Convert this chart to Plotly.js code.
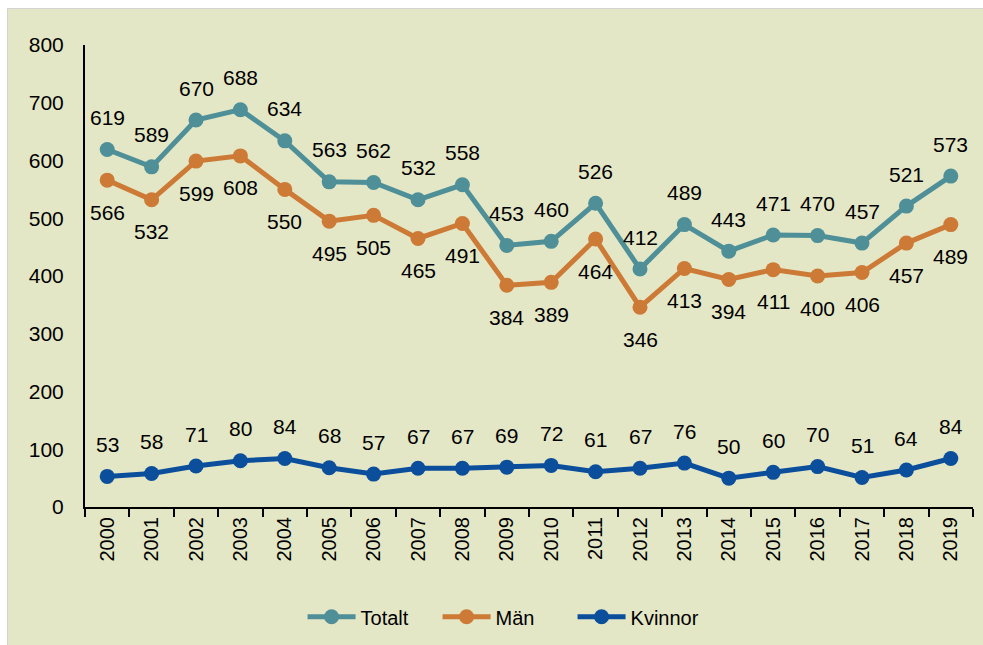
<!DOCTYPE html>
<html><head><meta charset="utf-8">
<script src="https://cdn.plot.ly/plotly-3.0.1.min.js"></script>
<style>
body{margin:0;background:#fff;}
#chart{position:absolute;left:7px;top:8px;width:976px;height:637px;border-left:1px solid #d4d4d4;border-top:1px solid #d4d4d4;}
</style></head><body>
<div id="chart"></div>
<script>
const years = ["2000","2001","2002","2003","2004","2005","2006","2007","2008","2009","2010","2011","2012","2013","2014","2015","2016","2017","2018","2019"];
const totalt = [619,589,670,688,634,563,562,532,558,453,460,526,412,489,443,471,470,457,521,573];
const man = [566,532,599,608,550,495,505,465,491,384,389,464,346,413,394,411,400,406,457,489];
const kvinnor = [53,58,71,80,84,68,57,67,67,69,72,61,67,76,50,60,70,51,64,84];

const FONT = 'Liberation Sans, Arial, sans-serif';
function tr(name, y, color){
  return {x: years, y: y, name: name, type:'scatter', mode:'lines+markers',
    line:{color:color, width:5}, marker:{color:color, size:15}};
}
const data = [tr('Totalt', totalt, '#4F8F98'),
              tr('Män', man, '#CC7A36'),
              tr('Kvinnor', kvinnor, '#0B4E9B')];
const annotations = [];
function labels(y, shift){
  y.forEach((v,i)=>annotations.push({x: i, y: v, xref:'x', yref:'y', text: String(v), showarrow:false,
    yshift: shift, font:{family:FONT, size:21, color:'#000'}}));
}
labels(totalt, 32); labels(man, -32); labels(kvinnor, 32);

const layout = {
  width: 976, height: 637,
  paper_bgcolor:'#E4E7C6', plot_bgcolor:'#E4E7C6',
  margin:{l:77, r:11, t:36, b:138},
  font:{family:FONT, size:20, color:'#000'},
  showlegend:true,
  annotations: annotations,
  legend:{orientation:'h', x:0.245, xanchor:'left', y:-0.235, yanchor:'middle', font:{size:20},
    entrywidth:72, entrywidthmode:'pixels', itemwidth:48},
  xaxis:{type:'category', range:[-0.5,19.5], automargin:false, showline:true, linecolor:'#000', linewidth:2, ticks:'outside', ticklen:8, tickwidth:2, tickcolor:'#000', tickson:'boundaries', tickangle:-90, showgrid:false, zeroline:false, tickfont:{size:20}},
  yaxis:{range:[0,800], dtick:100, automargin:false, showline:true, linecolor:'#000', linewidth:2, ticks:'', showgrid:false, zeroline:false, ticklabelstandoff:15, tickfont:{size:21}}
};
Plotly.newPlot('chart', data, layout, {displayModeBar:false});
</script></body></html>
